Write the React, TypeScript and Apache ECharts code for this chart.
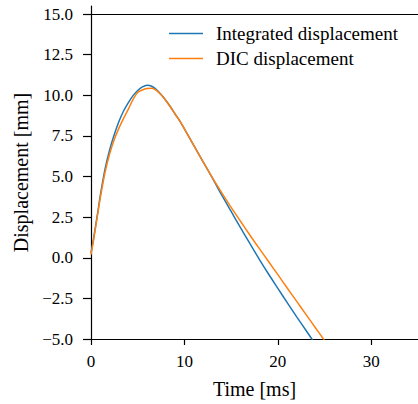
import React, { useEffect, useRef } from "react";
import * as echarts from "echarts";

const time = [0, 0.25, 0.5, 0.75, 1, 1.5, 2, 2.5, 3, 3.5, 4, 4.5, 5, 5.5, 6, 6.5, 7, 7.5, 8, 8.5, 9, 9.5, 10, 11, 12, 13, 14, 15, 16, 17, 18, 19, 20, 21, 22, 23, 24, 25];
const integrated = [0.3, 1.1, 2.0, 2.9, 3.85, 5.45, 6.65, 7.6, 8.4, 9.05, 9.55, 9.98, 10.3, 10.52, 10.62, 10.56, 10.35, 10.05, 9.7, 9.3, 8.85, 8.43, 7.93, 6.92, 5.91, 4.9, 3.85, 2.85, 1.85, 0.88, -0.08, -1.0, -1.88, -2.76, -3.62, -4.46, -5.3, -6.1];
const dic = [0.2, 1.0, 1.9, 2.8, 3.7, 5.25, 6.4, 7.3, 8.0, 8.6, 9.15, 9.75, 10.18, 10.33, 10.42, 10.44, 10.3, 10.03, 9.68, 9.28, 8.85, 8.43, 7.93, 6.92, 5.91, 4.92, 4.0, 3.1, 2.25, 1.4, 0.58, -0.23, -1.04, -1.86, -2.67, -3.48, -4.29, -5.1];
const seriesNames = ["Integrated displacement", "DIC displacement"];
const xTicks = [0, 10, 20, 30];
const yTicks = [-5, -2.5, 0, 2.5, 5, 7.5, 10, 12.5, 15];
const refLineY = 15;

const FONT = "Liberation Serif";

export default function App() {
  const ref = useRef<HTMLDivElement>(null);
  useEffect(() => {
    if (!ref.current) return;
    const chart = echarts.init(ref.current, undefined, { renderer: "svg" });
    const fmtY = (v: number) => (v < 0 ? "\u2212" + Math.abs(v).toFixed(1) : v.toFixed(1));
    chart.setOption({
      animation: false,
      backgroundColor: "#fff",
      grid: { left: 91, top: 6, width: 327.3, height: 336, containLabel: false },
      legend: {
        data: seriesNames,
        orient: "vertical",
        left: 169,
        top: 24,
        padding: 0,
        itemGap: 6,
        itemWidth: 34,
        itemHeight: 1.6,
        icon: "rect",
        textStyle: { fontFamily: FONT, fontSize: 19, color: "#000", padding: [0, 0, 0, 8] },
      },
      xAxis: {
        type: "value",
        min: 0,
        max: 35,
        name: "Time [ms]",
        nameLocation: "middle",
        nameGap: 40,
        nameTextStyle: { fontFamily: FONT, fontSize: 20, color: "#000" },
        axisLine: { show: true, onZero: false, lineStyle: { color: "#000", width: 1.2 } },
        axisTick: { show: true, length: 6, customValues: xTicks, lineStyle: { color: "#000", width: 1.2 } },
        axisLabel: { customValues: xTicks, fontFamily: FONT, fontSize: 17, color: "#000", margin: 14 },
        splitLine: { show: false },
      },
      yAxis: {
        type: "value",
        min: -5,
        max: 15.5,
        name: "Displacement [mm]",
        nameLocation: "middle",
        nameGap: 58,
        nameTextStyle: { fontFamily: FONT, fontSize: 20, color: "#000" },
        axisLine: { show: true, onZero: false, lineStyle: { color: "#000", width: 1.2 } },
        axisTick: { show: true, length: 8, customValues: yTicks, lineStyle: { color: "#000", width: 1.2 } },
        axisLabel: { customValues: yTicks, formatter: fmtY, fontFamily: FONT, fontSize: 17, color: "#000", margin: 18 },
        splitLine: { show: false },
      },
      series: [
        {
          name: seriesNames[0],
          type: "line",
          data: time.map((t, i) => [t, integrated[i]]),
          showSymbol: false,
          smooth: 0.3,
          clip: true,
          lineStyle: { color: "#1f77b4", width: 1.5 },
          itemStyle: { color: "#1f77b4" },
          markLine: {
            silent: true,
            symbol: "none",
            label: { show: false },
            lineStyle: { color: "#000", width: 1.2, type: "solid" },
            data: [{ yAxis: refLineY }],
          },
        },
        {
          name: seriesNames[1],
          type: "line",
          data: time.map((t, i) => [t, dic[i]]),
          showSymbol: false,
          smooth: 0.3,
          clip: true,
          lineStyle: { color: "#ff7f0e", width: 1.5 },
          itemStyle: { color: "#ff7f0e" },
        },
      ],
    });
    return () => chart.dispose();
  }, []);
  return (
    <div
      ref={ref}
      style={{ position: "fixed", left: 0, top: 0, width: 418, height: 404, background: "#fff" }}
    />
  );
}
